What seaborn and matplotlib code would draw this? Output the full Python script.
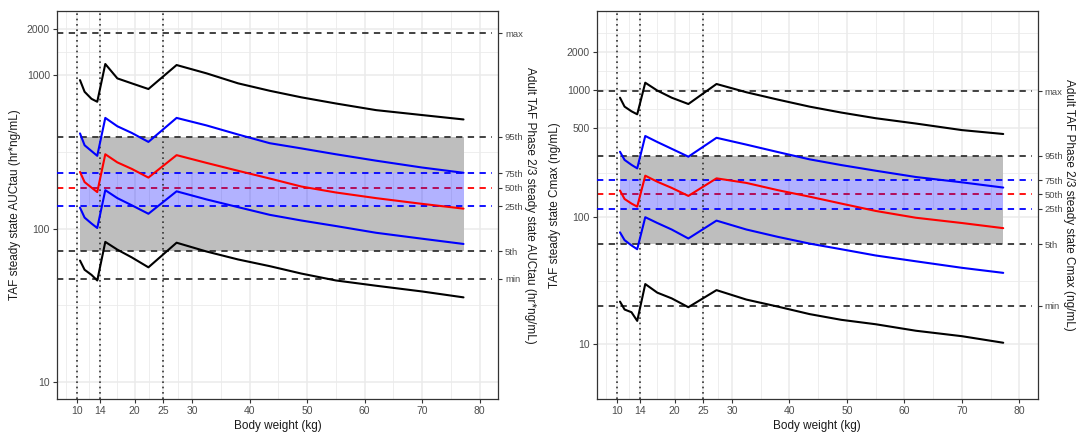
import numpy as np
import pandas as pd
import matplotlib
matplotlib.use("Agg")
import matplotlib.pyplot as plt
import seaborn as sns

# Body weight grid of the simulated pediatric profiles (kg)
weight = [10.5, 11.3, 12.5, 13.5, 14.9, 17.0, 19.5, 22.4, 27.3, 32.5, 38.0, 43.5, 49.0, 55.0, 62.0, 70.0, 77.2]

# AUCtau (hr*ng/mL) percentile curves vs body weight
auc_hi = [927, 778, 700, 670, 1180, 951, 883, 811, 1162, 1026, 883, 790, 716, 653, 591, 549, 514]
auc_q_hi = [417, 349, 320, 298, 526, 464, 420, 367, 526, 470, 410, 360, 333, 305, 277, 250, 231]
auc_med = [234, 201, 185, 173, 305, 270, 245, 215, 301, 268, 238, 212, 188, 172, 158, 145, 135]
auc_q_lo = [137, 118, 108, 101, 178, 158, 142, 125, 175, 155, 138, 123, 113, 104, 94, 86, 79.5]
auc_lo = [62, 54, 50, 46, 82, 73, 65, 56, 81, 71, 63, 57, 51, 46, 42.5, 39, 35.7]

# Cmax (ng/mL) percentile curves vs body weight
cmax_hi = [870, 740, 680, 644, 1141, 990, 870, 776, 1115, 960, 840, 740, 665, 600, 545, 484, 451]
cmax_q_hi = [327, 282, 258, 242, 435, 390, 345, 299, 421, 372, 325, 285, 257, 232, 207, 188, 171]
cmax_med = [162, 139, 128, 121, 212, 190, 170, 147, 202, 186, 163, 145, 128, 112, 99, 90, 82]
cmax_q_lo = [76, 66, 60, 56, 100, 90, 80, 68, 94, 80, 70, 62, 56, 50, 45, 40, 36.5]
cmax_lo = [21.7, 18.8, 17.9, 15.3, 29.8, 25.5, 23.0, 19.6, 26.7, 22.5, 19.8, 17.3, 15.6, 14.4, 12.8, 11.6, 10.3]

# Adult Phase 2/3 reference distribution
ref_labels = ["min", "5th", "25th", "50th", "75th", "95th", "max"]
auc_ref = [47.2, 71, 140, 184, 229, 396, 1870]
cmax_ref = [20.1, 61.4, 116, 151, 196, 303, 982]

# Dosing weight-band cut points (kg)
weight_cuts = [10, 14, 25]

x_ticks = [10, 14, 20, 25, 30, 40, 50, 60, 70, 80]
auc_yticks = [10, 100, 1000, 2000]
cmax_yticks = [10, 100, 500, 1000, 2000]

sns.set_theme(style="white")
plt.rcParams["font.family"] = ["Liberation Sans", "DejaVu Sans"]

GRID = "#EBEBEB"
TXT = "#4D4D4D"
FRAME = "#333333"
DASH = (0, (3.5, 3))


def draw_panel(fig, rect, curves, ref, yticks, ylim, ylab, ref_title):
    ax = fig.add_axes(rect)
    ax.set_yscale("log")
    ax.set_xlim(6.5, 83.2)
    ax.set_ylim(*ylim)

    # grid: major at breaks, minor midway (log space for y)
    lo, hi = np.log10(ylim)
    lb = np.log10(yticks)
    ext = np.concatenate([[lb[0] - (lb[1] - lb[0])], lb, [lb[-1] + (lb[-1] - lb[-2])]])
    for m in (ext[:-1] + ext[1:]) / 2:
        if lo < m < hi:
            ax.axhline(10 ** m, color=GRID, lw=0.6, zorder=0)
    for t in yticks:
        ax.axhline(t, color=GRID, lw=1.1, zorder=0)
    xb = np.array([6] + x_ticks + [90], dtype=float)
    for m in (xb[:-1] + xb[1:]) / 2:
        if 6.5 < m < 83.2:
            ax.axvline(m, color=GRID, lw=0.6, zorder=0)
    for t in x_ticks:
        ax.axvline(t, color=GRID, lw=1.1, zorder=0)

    r = dict(zip(ref_labels, ref))
    w = np.array(weight)
    # 90% reference range (grey) split around the interquartile band
    ax.fill_between(w, r["5th"], r["25th"], color="#BEBEBE", lw=0, zorder=1)
    ax.fill_between(w, r["75th"], r["95th"], color="#BEBEBE", lw=0, zorder=1)

    xmax_frac = (82.2 - 6.5) / (83.2 - 6.5)
    ax.axhline(r["50th"], xmax=xmax_frac, color="#FF0000", lw=1.3, ls=DASH, zorder=2)
    ax.fill_between(w, r["25th"], r["75th"], color="#0000FF", alpha=0.3, lw=0, zorder=3)
    for key, col in [("min", FRAME), ("5th", FRAME), ("95th", FRAME), ("max", FRAME),
                     ("25th", "#0000FF"), ("75th", "#0000FF")]:
        ax.axhline(r[key], xmax=xmax_frac, color=col, lw=1.3, ls=DASH, zorder=4)

    for c in weight_cuts:
        ax.axvline(c, color=FRAME, lw=1.2, ls=(0, (1, 2.2)), zorder=4)

    # predicted pediatric exposure percentiles
    names = ["hi", "q_hi", "med", "q_lo", "lo"]
    df = pd.concat([pd.DataFrame({"weight": weight, "value": v, "curve": n})
                    for n, v in zip(names, curves)], ignore_index=True)
    pal = {"hi": "black", "q_hi": "#0000FF", "med": "#FF0000", "q_lo": "#0000FF", "lo": "black"}
    sns.lineplot(data=df, x="weight", y="value", hue="curve", palette=pal,
                 estimator=None, sort=False, lw=1.5, legend=False, ax=ax, zorder=5)

    ax.set_xticks(x_ticks)
    ax.set_xticklabels([str(t) for t in x_ticks])
    ax.set_yticks(yticks)
    ax.set_yticklabels([str(t) for t in yticks])
    ax.yaxis.set_minor_locator(matplotlib.ticker.NullLocator())
    ax.tick_params(axis="both", which="major", length=3, width=0.8, color=FRAME,
                   labelsize=7.5, labelcolor=TXT, pad=2, left=True, bottom=True)
    ax.set_xlabel("Body weight (kg)", fontsize=8.5, color="#1A1A1A", labelpad=3)
    ax.set_ylabel(ylab, fontsize=8.5, color="#1A1A1A", labelpad=4)
    for s in ax.spines.values():
        s.set_color(FRAME)
        s.set_linewidth(0.9)

    ax2 = ax.twinx()
    ax2.set_yscale("log")
    ax2.set_ylim(*ylim)
    ax2.set_yticks(ref)
    ax2.set_yticklabels(ref_labels)
    ax2.yaxis.set_minor_locator(matplotlib.ticker.NullLocator())
    ax2.tick_params(axis="y", which="major", length=3, width=0.8, color=FRAME,
                    labelsize=6.8, labelcolor=TXT, pad=2, right=True)
    ax2.set_ylabel(ref_title, rotation=270, fontsize=8.5, color="#1A1A1A", labelpad=0,
                   va="bottom")
    for s in ax2.spines.values():
        s.set_visible(False)
    ax2.grid(False)
    ax.grid(False)
    return ax


fig = plt.figure(figsize=(10.78, 4.34), dpi=100)
fig.patch.set_facecolor("white")

draw_panel(fig, [57 / 1078, 1 - 399 / 434, 441 / 1078, 388 / 434],
           [auc_hi, auc_q_hi, auc_med, auc_q_lo, auc_lo], auc_ref, auc_yticks,
           (7.78, 2612), "TAF steady state AUCtau (hr*ng/mL)",
           "Adult TAF Phase 2/3 steady state AUCtau (hr*ng/mL)")
draw_panel(fig, [597 / 1078, 1 - 399 / 434, 440.7 / 1078, 388 / 434],
           [cmax_hi, cmax_q_hi, cmax_med, cmax_q_lo, cmax_lo], cmax_ref, cmax_yticks,
           (3.72, 4180), "TAF steady state Cmax (ng/mL)",
           "Adult TAF Phase 2/3 steady state Cmax (ng/mL)")

fig.savefig("out.png", dpi=100)
